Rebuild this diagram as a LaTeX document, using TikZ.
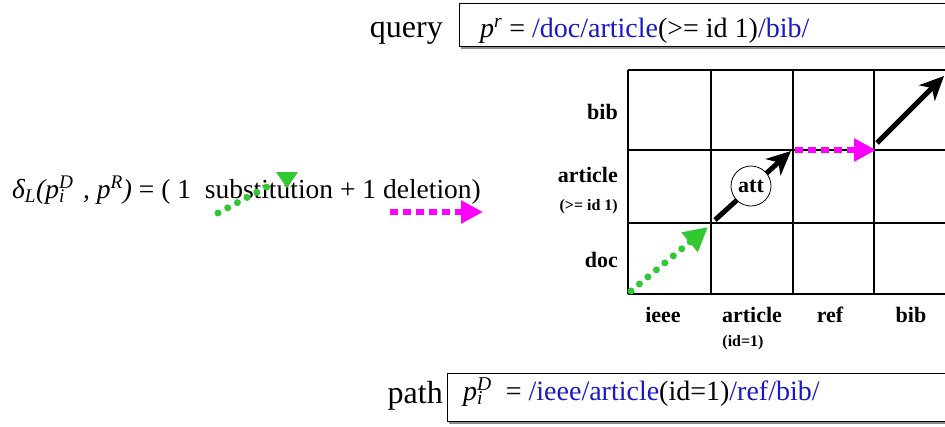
\documentclass[tikz,border=0pt]{standalone}
\usepackage{fontspec}
\setmainfont{Liberation Serif}
\usetikzlibrary{arrows.meta}
\definecolor{qblue}{RGB}{25,25,200}
\definecolor{dgreen}{RGB}{50,200,50}
\definecolor{mag}{RGB}{255,0,255}
\begin{document}
\begin{tikzpicture}[x=1pt,y=-1pt,
  big/.style={font=\fontsize{32}{36}\selectfont, inner sep=0pt},
  boxtext/.style={font=\fontsize{28}{32}\selectfont, inner sep=0pt},
  formtext/.style={font=\fontsize{27.5}{32}\selectfont, inner sep=0pt},
  lab/.style={font=\bfseries\fontsize{22}{24}\selectfont, inner sep=0pt},
  smalllab/.style={font=\bfseries\fontsize{16}{18}\selectfont, inner sep=0pt},
  gridline/.style={line width=1.4pt},
  boxframe/.style={draw=black, line width=1pt, fill=white},
  boxshadow/.style={fill=black!45},
  greendots/.style={dgreen, line width=7pt, line cap=round, dash pattern=on 0pt off 11pt},
  greenarrow/.style={greendots, -{Triangle[length=24pt 0,width=24pt 0]}},
  magarrow/.style={mag, line width=6pt, dash pattern=on 8pt off 5pt, -{Triangle[length=22pt 0,width=22pt 0]}},
  blackarrow/.style={black, line width=5pt, -{Stealth[length=24pt 0,width=22pt 0,inset=7pt 0]}},
  attnode/.style={circle, draw, line width=0.8pt, fill=white, minimum size=40pt, inner sep=0pt, font=\bfseries\fontsize{22}{24}\selectfont}
]
\clip (0,0) rectangle (945,426);
\fill[white] (0,0) rectangle (945,426);

% query box
\fill[boxshadow] (461,6) rectangle (960,49);
\draw[boxframe] (459,3) rectangle (960,46);
\node[big, anchor=base east] (qlab) at (443,37) {query};
\node[boxtext, anchor=base west] (qtext) at (480,37)
  {{\itshape p\textsuperscript{r}} = \textcolor{qblue}{/doc/article}(>= id 1)\textcolor{qblue}{/bib/}};

% path box
\fill[boxshadow] (449,376) rectangle (960,424);
\draw[boxframe] (447,373) rectangle (960,421);
\node[big, anchor=base east] (plab) at (443,403) {path};
\node[boxtext, anchor=base west] (ptext) at (463,400)
  {{\itshape p\rlap{\textsubscript{i}}\textsuperscript{D}}\ \ = \textcolor{qblue}{/ieee/article}(id=1)\textcolor{qblue}{/ref/bib/}};

% formula
\node[formtext, anchor=base west] (formula) at (12,198)
  {{\itshape δ\textsubscript{L}(p\rlap{\textsubscript{i}}\textsuperscript{D}\hspace{0.1em} , p\textsuperscript{R})} = ( 1~ substitution + 1 deletion)};
\coordinate (fgs) at (218,213);
\coordinate (fge) at (276,182);
\draw[greendots] (fgs) -- (fge);
\fill[dgreen] (276,172) -- (298,172) -- (287,188) -- cycle;
\coordinate (fms) at (390,212);
\coordinate (fme) at (483,212);
\draw[magarrow] (fms) -- (fme);

% grid
\foreach \x in {628,711,793,874,956} \draw[gridline] (\x,70) -- (\x,294);
\foreach \y in {70,150,223,294} \draw[gridline] (628,\y) -- (960,\y);

% row labels
\node[lab, anchor=east] (rbib) at (618,112) {bib};
\node[lab, anchor=east] (rart) at (618,175) {article};
\node[smalllab, anchor=east] (rartid) at (618,207) {(>= id 1)};
\node[lab, anchor=east] (rdoc) at (618,260) {doc};

% column labels
\node[lab] (cieee) at (663,315) {ieee};
\node[lab] (cart) at (752,315) {article};
\node[smalllab] (cartid) at (743,343) {(id=1)};
\node[lab] (cref) at (830,315) {ref};
\node[lab] (cbib) at (911,315) {bib};

% path arrows
\coordinate (g0) at (631,291);
\coordinate (g1) at (708,227);
\draw[greenarrow] (g0) -- (g1);
\coordinate (b0) at (715,220);
\coordinate (b1) at (791,151);
\draw[blackarrow] (b0) -- (b1);
\node[attnode] (att) at (751,186) {att};
\coordinate (m0) at (795,150);
\coordinate (m1) at (876,150);
\draw[magarrow] (m0) -- (m1);
\coordinate (c0) at (877,143);
\coordinate (c1) at (944,76);
\draw[blackarrow] (c0) -- (c1);
\end{tikzpicture}
\end{document}
